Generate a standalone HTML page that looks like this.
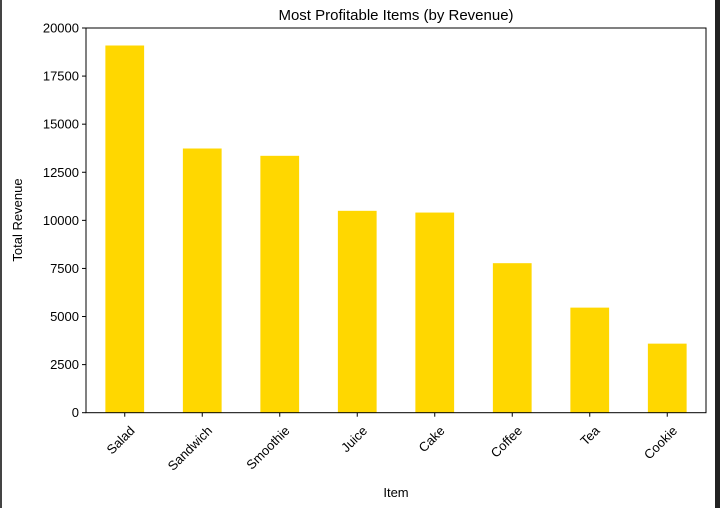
<!DOCTYPE html>
<html><head><meta charset="utf-8"><style>
html,body{margin:0;padding:0;background:#fff;width:720px;height:508px;overflow:hidden}
svg{display:block;font-family:"Liberation Sans","DejaVu Sans",sans-serif}
</style></head><body>
<svg id="chart" width="720" height="508" viewBox="0 0 720 508">
<rect x="0" y="0" width="720" height="508" fill="#fff"/>
<rect x="0" y="0" width="2" height="508" fill="#444"/>
<rect x="715" y="0" width="5" height="508" fill="#222"/>
<text x="396" y="20" text-anchor="middle" font-size="15" fill="#000">Most Profitable Items (by Revenue)</text>
<g id="bars"></g><g id="yaxis"></g><g id="xaxis"></g>
<rect x="86" y="28" width="620" height="384.7" fill="none" stroke="#000" stroke-width="1"/>
<text x="22" y="220" text-anchor="middle" font-size="13" transform="rotate(-90 22 220)">Total Revenue</text>
<text x="396" y="497" text-anchor="middle" font-size="13">Item</text>
</svg>
<script>
const categories=["Salad","Sandwich","Smoothie","Juice","Cake","Coffee","Tea","Cookie"];
const revenues=[19090,13735,13355,10495,10405,7773,5463,3590];
const yTicks=[0,2500,5000,7500,10000,12500,15000,17500,20000];
const NS="http://www.w3.org/2000/svg";
const L=86,R=706,T=28,B=412.7,YMAX=20000;
const y=v=>B-(v/YMAX)*(B-T);
const step=(R-L)/categories.length;
const x=i=>L+step*(i+0.5);
function mk(tag,attrs,parent){const e=document.createElementNS(NS,tag);for(const k in attrs)e.setAttribute(k,attrs[k]);parent.appendChild(e);return e;}
const bars=document.getElementById('bars'),ya=document.getElementById('yaxis'),xa=document.getElementById('xaxis');
const bw=step*0.5;
categories.forEach((c,i)=>{
  const r=mk('rect',{x:x(i)-bw/2,y:y(revenues[i]),width:bw,height:B-y(revenues[i]),fill:'#FFD700'},bars);
  
  
  const t=mk('line',{x1:x(i),x2:x(i),y1:B,y2:B+4,stroke:'#000'},xa);
  
  
  const lx=x(i)+4,ly=B+12;
  const lb=mk('text',{x:lx,y:ly,'text-anchor':'end','font-size':'13',transform:`rotate(-45 ${lx} ${ly})`,'dominant-baseline':'hanging'},xa);
  lb.textContent=c;
  
  
});
yTicks.forEach(v=>{
  const t=mk('line',{x1:L-4,x2:L,y1:y(v),y2:y(v),stroke:'#000'},ya);
  
  
  const lb=mk('text',{x:L-7,y:y(v)+4.5,'text-anchor':'end','font-size':'13'},ya);
  lb.textContent=v;
  
  
});
</script>
</body></html>
